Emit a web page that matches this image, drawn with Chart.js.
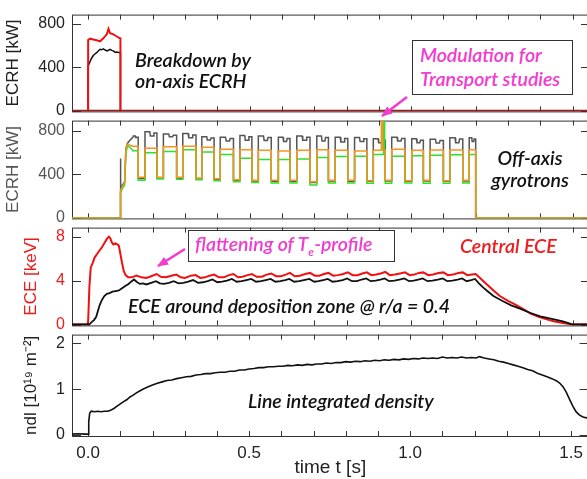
<!DOCTYPE html>
<html>
<head>
<meta charset="utf-8">
<script src="https://cdn.jsdelivr.net/npm/chart.js@4.4.1/dist/chart.umd.min.js"></script>
<style>
  html, body { margin: 0; padding: 0; background: #fff; overflow: hidden; }
  #wrap { position: relative; width: 587px; height: 479px; overflow: hidden; }
  canvas { position: absolute; left: 0; }
  .note { position: absolute; font-family: Lato, "Open Sans", sans-serif; font-style: italic; font-weight: 600;
          font-size: 19.5px; line-height: 22px; white-space: nowrap; color: #111; }
  .box { position: absolute; box-sizing: border-box; background: #fff; border: 1px solid #333; }
  .pink { color: #f03ccf; }
  svg { position: absolute; left: 0; top: 0; }
</style>
</head>
<body>
<div id="wrap">
  <canvas id="p1" width="590" height="130" style="top:-2px"></canvas>
  <canvas id="p2" width="590" height="131" style="top:104px"></canvas>
  <canvas id="p3" width="590" height="131" style="top:211px"></canvas>
  <canvas id="p4" width="590" height="161" style="top:318px"></canvas>

  <div class="note" style="left:135px; top:49px; line-height:21px">Breakdown by<br>on-axis ECRH</div>
  <div class="box" style="left:412px; top:40px; width:161px; height:55px"></div>
  <div class="note pink" style="left:420px; top:43px; line-height:24px">Modulation for<br>Transport studies</div>
  <div class="note" style="left:480px; top:147px; width:100px; text-align:center">Off-axis<br>gyrotrons</div>
  <div class="box" style="left:188px; top:230px; width:207px; height:32px"></div>
  <div class="note pink" style="left:195px; top:233px">flattening of T<sub style="font-size:12px; line-height:0">e</sub>-profile</div>
  <div class="note" style="left:460px; top:235px; color:#ee1c1c">Central ECE</div>
  <div class="note" style="left:128px; top:295px">ECE around deposition zone @ r/a = 0.4</div>
  <div class="note" style="left:248px; top:390px">Line integrated density</div>

  <svg width="587" height="479">
    <defs>
      <marker id="ah" markerWidth="11" markerHeight="9" refX="10" refY="4.5" orient="auto" markerUnits="userSpaceOnUse">
        <path d="M0,0 L11,4.5 L0,9 z" fill="#f03ccf"/>
      </marker>
    </defs>
    <line x1="407" y1="97" x2="382" y2="116" stroke="#f03ccf" stroke-width="2.5" marker-end="url(#ah)"/>
    <line x1="185" y1="249" x2="158" y2="266" stroke="#f03ccf" stroke-width="2.5" marker-end="url(#ah)"/>
  </svg>
</div>

<script>
const xMin = -0.05, xMax = 1.554
const xTickLabels = [0.0, 0.5, 1.0, 1.5]
const xMinorTicks = [0, 0.1, 0.2, 0.3, 0.4, 0.5, 0.6, 0.7, 0.8, 0.9, 1.0, 1.1, 1.2, 1.3, 1.4, 1.5]

// panel 1: on-axis ECRH breakdown pulse
const onAxisRedT = [0.000, 0.000, 0.006, 0.016, 0.026, 0.037, 0.047, 0.054, 0.058, 0.063, 0.068, 0.078, 0.089, 0.097, 0.100, 0.100]
const onAxisRed = [0, 650, 662, 655, 648, 638, 665, 690, 705, 752, 712, 702, 682, 668, 665, 0]
const onAxisBlackT = [0.000, 0.000, 0.006, 0.011, 0.016, 0.021, 0.027, 0.032, 0.037, 0.042, 0.047, 0.053, 0.058, 0.063, 0.068, 0.073, 0.078, 0.084, 0.089, 0.094, 0.100, 0.100]
const onAxisBlack = [0, 411, 453, 485, 508, 522, 536, 552, 564, 560, 569, 558, 550, 556, 564, 555, 550, 536, 540, 536, 535, 0]

// panel 2: off-axis gyrotrons, modulated
const modLowStart = [0.155, 0.213, 0.274, 0.334, 0.390, 0.450, 0.507, 0.567, 0.625, 0.687, 0.744, 0.804, 0.863, 0.920, 0.981, 1.038, 1.100, 1.160]
const modLowEnd = [0.176, 0.233, 0.293, 0.352, 0.409, 0.470, 0.527, 0.589, 0.646, 0.708, 0.765, 0.825, 0.883, 0.940, 1.002, 1.059, 1.120, 1.180]
const gyroOffT = 1.2

const orangeStartT = [-0.05, 0.100, 0.100, 0.106, 0.113, 0.116, 0.120, 0.126, 0.135]
const orangeStart = [0, 0, 250, 290, 320, 600, 680, 672, 662]
const orangeHigh = [658, 638, 652, 656, 647, 630, 625, 620, 614, 620, 625, 620, 614, 620, 630, 620, 622, 622, 625]
const orangeLow = [373, 373, 373, 367, 360, 350, 345, 345, 345, 331, 345, 345, 342, 345, 342, 345, 342, 345]

const greenStartT = [-0.05, 0.100, 0.100, 0.106, 0.113, 0.117, 0.122, 0.128, 0.138]
const greenStart = [0, 0, 230, 270, 300, 590, 665, 650, 620]
const greenHigh = [615, 597, 610, 624, 605, 582, 546, 535, 535, 540, 555, 563, 566, 582, 566, 570, 575, 580, 582]
const greenLow = [345, 358, 355, 350, 340, 331, 325, 321, 321, 303, 321, 321, 318, 318, 321, 318, 318, 321]

const grayStartT = [-0.05, 0.100, 0.100, 0.101, 0.106, 0.113, 0.117, 0.123, 0.132, 0.140]
const grayStart = [0, 0, 545, 265, 300, 330, 640, 690, 720, 745]
const grayHigh = [752, 790, 770, 773, 745, 740, 755, 750, 740, 752, 750, 740, 738, 725, 740, 725, 722, 735, 735]
const grayDip = [738, 752, 745, 736, 715, 705, 712, 710, 700, 712, 705, 695, 700, 690, 705, 690, 686, 690, 700]
const grayLow = [362, 368, 364, 358, 352, 343, 338, 337, 337, 326, 338, 337, 336, 338, 336, 338, 336, 338]

const spikeOrangeT = [0.908, 0.908, 0.912, 0.912]
const spikeOrange = [622, 950, 950, 622]
const spikeGreenT = [0.915, 0.915, 0.918, 0.918]
const spikeGreen = [582, 950, 950, 582]

// panel 3: ECE
const eceCoreT = [
  -0.05, -0.002, 0.000, 0.004, 0.008, 0.014, 0.020, 0.027, 0.034, 0.042,
  0.050, 0.058, 0.064, 0.068, 0.073, 0.078, 0.084, 0.090, 0.095, 0.100,
  0.105, 0.110, 0.116, 0.124, 0.135, 0.150, 0.165, 0.180, 0.195, 0.212,
  0.225, 0.240, 0.258, 0.273, 0.287, 0.300, 0.318, 0.333, 0.347, 0.362,
  0.376, 0.390, 0.405, 0.420, 0.436, 0.450, 0.464, 0.478, 0.494, 0.507,
  0.522, 0.538, 0.553, 0.567, 0.582, 0.597, 0.612, 0.625, 0.640, 0.655,
  0.672, 0.687, 0.702, 0.716, 0.730, 0.744, 0.759, 0.774, 0.790, 0.804,
  0.819, 0.834, 0.849, 0.863, 0.877, 0.892, 0.906, 0.920, 0.934, 0.950,
  0.966, 0.981, 0.996, 1.010, 1.024, 1.038, 1.053, 1.068, 1.085, 1.100,
  1.114, 1.130, 1.146, 1.160, 1.174, 1.188, 1.200, 1.215, 1.235, 1.255,
  1.275, 1.300, 1.320, 1.345, 1.370, 1.395, 1.420, 1.445, 1.470, 1.490,
  1.500, 1.554]
const eceCore = [
  0, 0, 0.3, 3.5, 5.2, 5.6, 6.1, 6.4, 6.7, 7.0,
  7.4, 7.8, 8.0, 7.9, 7.5, 7.3, 7.4, 7.3, 7.2, 6.4,
  5.6, 4.9, 4.5, 4.3, 4.3, 4.45, 4.3, 4.25, 4.4, 4.6,
  4.35, 4.3, 4.45, 4.55, 4.3, 4.25, 4.45, 4.5, 4.25, 4.3,
  4.45, 4.55, 4.3, 4.3, 4.5, 4.6, 4.3, 4.35, 4.5, 4.6,
  4.35, 4.35, 4.55, 4.65, 4.4, 4.4, 4.55, 4.7, 4.4, 4.45,
  4.6, 4.7, 4.45, 4.45, 4.6, 4.7, 4.45, 4.5, 4.6, 4.75,
  4.5, 4.5, 4.65, 4.75, 4.5, 4.55, 4.65, 4.8, 4.5, 4.55,
  4.65, 4.75, 4.5, 4.55, 4.7, 4.75, 4.5, 4.55, 4.7, 4.75,
  4.5, 4.55, 4.7, 4.75, 4.5, 4.55, 4.6, 4.2, 3.65, 3.1,
  2.6, 2.15, 1.85, 1.45, 1.0, 0.7, 0.47, 0.28, 0.14, 0.04,
  0.0, 0.0]
const eceDepT = [
  -0.05, 0.003, 0.010, 0.018, 0.025, 0.030, 0.036, 0.042, 0.050, 0.058,
  0.066, 0.075, 0.085, 0.095, 0.105, 0.115, 0.125, 0.135, 0.142, 0.150,
  0.160, 0.170, 0.180, 0.195, 0.210, 0.222, 0.235, 0.250, 0.265, 0.280,
  0.295, 0.310, 0.325, 0.340, 0.355, 0.370, 0.385, 0.400, 0.415, 0.430,
  0.445, 0.460, 0.475, 0.490, 0.505, 0.520, 0.535, 0.550, 0.565, 0.580,
  0.595, 0.610, 0.623, 0.638, 0.653, 0.668, 0.685, 0.700, 0.713, 0.728,
  0.742, 0.757, 0.772, 0.788, 0.802, 0.817, 0.832, 0.847, 0.861, 0.875,
  0.890, 0.905, 0.918, 0.932, 0.948, 0.964, 0.979, 0.994, 1.008, 1.022,
  1.036, 1.051, 1.066, 1.083, 1.098, 1.112, 1.128, 1.144, 1.158, 1.172,
  1.186, 1.198, 1.210, 1.222, 1.234, 1.255, 1.286, 1.310, 1.337, 1.370,
  1.400, 1.450, 1.470, 1.490, 1.500, 1.554]
const eceDep = [
  0, 0, 0.2, 0.4, 0.7, 1.2, 1.8, 2.2, 2.6, 2.8,
  2.85, 3.0, 3.05, 3.1, 3.3, 3.5, 3.7, 3.95, 4.1, 3.9,
  3.7, 3.75, 3.65, 3.8, 3.95, 3.75, 3.7, 3.8, 3.95, 3.75,
  3.8, 3.9, 4.05, 3.8, 3.85, 3.95, 4.1, 3.85, 3.9, 4.0,
  4.15, 3.9, 3.95, 4.05, 4.15, 3.9, 3.95, 4.05, 4.15, 3.9,
  3.95, 4.05, 4.15, 3.9, 3.95, 4.05, 4.15, 3.9, 3.95, 4.05,
  4.15, 3.9, 3.95, 4.05, 4.2, 3.95, 3.95, 4.1, 4.2, 3.95,
  4.0, 4.1, 4.2, 3.95, 4.0, 4.1, 4.2, 3.95, 4.0, 4.1,
  4.2, 3.95, 4.0, 4.1, 4.2, 3.95, 4.0, 4.1, 4.2, 3.95,
  4.05, 4.15, 3.75, 3.4, 3.1, 2.6, 2.1, 1.75, 1.45, 1.05,
  0.75, 0.42, 0.28, 0.1, 0.0, 0.0]

// panel 4: line integrated density
const ndlT = [
  -0.05, -0.03, -0.01, 0.000, 0.002, 0.005, 0.010, 0.020, 0.030, 0.040,
  0.050, 0.060, 0.070, 0.080, 0.090, 0.100, 0.110, 0.120, 0.130, 0.140,
  0.150, 0.160, 0.170, 0.185, 0.200, 0.215, 0.230, 0.245, 0.260, 0.275,
  0.290, 0.305, 0.320, 0.335, 0.350, 0.365, 0.380, 0.395, 0.410, 0.425,
  0.440, 0.455, 0.470, 0.485, 0.500, 0.515, 0.530, 0.545, 0.560, 0.575,
  0.590, 0.605, 0.620, 0.635, 0.650, 0.665, 0.680, 0.695, 0.710, 0.725,
  0.740, 0.755, 0.770, 0.785, 0.800, 0.815, 0.830, 0.845, 0.860, 0.875,
  0.890, 0.905, 0.920, 0.935, 0.950, 0.965, 0.980, 0.995, 1.010, 1.025,
  1.040, 1.055, 1.070, 1.085, 1.100, 1.115, 1.130, 1.145, 1.160, 1.175,
  1.190, 1.205, 1.215, 1.230, 1.245, 1.260, 1.275, 1.290, 1.305, 1.320,
  1.335, 1.350, 1.365, 1.380, 1.395, 1.410, 1.425, 1.440, 1.455, 1.465,
  1.475, 1.485, 1.495, 1.505, 1.515, 1.525, 1.535, 1.545, 1.554]
const ndl = [
  0.02, 0.03, 0.02, 0.02, 0.30, 0.48, 0.52, 0.51, 0.52, 0.51,
  0.52, 0.52, 0.54, 0.58, 0.63, 0.68, 0.73, 0.77, 0.83, 0.87,
  0.92, 0.96, 1.00, 1.05, 1.09, 1.13, 1.16, 1.19, 1.20, 1.23,
  1.25, 1.27, 1.28, 1.31, 1.32, 1.34, 1.34, 1.36, 1.37, 1.37,
  1.39, 1.39, 1.42, 1.42, 1.44, 1.45, 1.47, 1.47, 1.49, 1.49,
  1.50, 1.50, 1.52, 1.51, 1.53, 1.52, 1.54, 1.53, 1.55, 1.55,
  1.57, 1.56, 1.58, 1.58, 1.60, 1.59, 1.61, 1.60, 1.62, 1.61,
  1.63, 1.62, 1.64, 1.63, 1.65, 1.64, 1.66, 1.65, 1.67, 1.66,
  1.68, 1.67, 1.68, 1.67, 1.70, 1.68, 1.69, 1.68, 1.70, 1.68,
  1.69, 1.68, 1.71, 1.68, 1.66, 1.64, 1.61, 1.59, 1.56, 1.53,
  1.50, 1.47, 1.43, 1.40, 1.35, 1.31, 1.27, 1.23, 1.18, 1.13,
  1.05, 0.93, 0.78, 0.63, 0.51, 0.44, 0.40, 0.38, 0.37]

const pts = (ts, vs) => ts.map((t, i) => ({x: t, y: vs[i]}))

function gyroTrace(startT, startV, highs, lows, dips) {
  const out = pts(startT, startV)
  for (let i = 0; i < highs.length; i++) {
    const a = i === 0 ? startT[startT.length - 1] : modLowEnd[i - 1]
    const b = i < modLowStart.length ? modLowStart[i] : gyroOffT
    if (dips) {
      const w = b - a
      out.push({x: a, y: highs[i]}, {x: a + 0.4 * w, y: highs[i]}, {x: a + 0.45 * w, y: dips[i]},
        {x: a + 0.7 * w, y: dips[i]}, {x: a + 0.75 * w, y: highs[i] - 12}, {x: b, y: highs[i] - 12})
    } else {
      out.push({x: a, y: highs[i]}, {x: b, y: highs[i]})
    }
    if (i < lows.length) out.push({x: b, y: lows[i]}, {x: modLowEnd[i], y: lows[i]})
  }
  out.push({x: gyroOffT, y: 0}, {x: xMax, y: 0})
  return out
}

const AXIS_FONT = 'Liberation Sans, Arial, Helvetica, sans-serif'

const framePlugin = {
  id: 'frame',
  beforeDatasetsDraw(chart) {
    const {ctx, chartArea: a, scales: {x, y}} = chart
    ctx.save()
    ctx.strokeStyle = '#333'
    ctx.lineWidth = 1
    ctx.strokeRect(a.left + 0.5, a.top + 0.5, a.right - a.left, a.bottom - a.top)
    ctx.beginPath()
    xMinorTicks.forEach(v => {
      const px = Math.round(x.getPixelForValue(v)) + 0.5
      ctx.moveTo(px, a.bottom); ctx.lineTo(px, a.bottom - 5)
      ctx.moveTo(px, a.top); ctx.lineTo(px, a.top + 5)
    })
    y.ticks.forEach(t => {
      const py = Math.round(y.getPixelForValue(t.value)) + 0.5
      ctx.moveTo(a.left, py); ctx.lineTo(a.left + 9, py)
      ctx.moveTo(a.right, py); ctx.lineTo(a.right - 9, py)
    })
    ctx.stroke()
    ctx.restore()
  }
}

function line(data, color, width) {
  return {data, borderColor: color, borderWidth: width, pointRadius: 0, tension: 0, fill: false}
}

function panel(id, datasets, y, bottom) {
  const scales = {
    x: {type: 'linear', min: xMin, max: xMax, display: false},
    y: {
      type: 'linear', position: 'left', min: y.min, max: y.max,
      grid: {display: false, drawTicks: false}, border: {display: false},
      afterBuildTicks: s => { s.ticks = y.ticks.map(v => ({value: v})) },
      afterFit: s => { s.width = 72 },
      ticks: {color: y.color, font: {family: AXIS_FONT, size: 16}, padding: 7},
      title: {display: true, text: y.title, color: y.color, font: {family: AXIS_FONT, size: 17},
        padding: {top: y.titlePad, bottom: 0}}
    }
  }
  if (bottom) {
    scales.x = {
      type: 'linear', min: xMin, max: xMax, position: 'bottom',
      grid: {display: false, drawTicks: false}, border: {display: false},
      afterBuildTicks: s => { s.ticks = xTickLabels.map(v => ({value: v})) },
      afterFit: s => { s.height = 43 },
      ticks: {color: '#222', font: {family: AXIS_FONT, size: 17}, padding: 7, maxRotation: 0, autoSkip: false,
        callback: v => v.toFixed(1)},
      title: {display: true, text: 'time t [s]', color: '#222', font: {family: AXIS_FONT, size: 19},
        padding: {top: 0, bottom: 0}}
    }
  }
  return new Chart(document.getElementById(id), {
    type: 'line',
    data: {datasets},
    options: {
      responsive: false, animation: false, events: [],
      layout: {padding: {top: 12, bottom: bottom ? 0 : 12, left: 0, right: 0}},
      plugins: {legend: {display: false}, tooltip: {enabled: false}},
      scales
    },
    plugins: [framePlugin]
  })
}

panel('p1', [
  line(pts(onAxisRedT, onAxisRed), '#f01010', 2),
  line(pts(onAxisBlackT, onAxisBlack), '#111', 1.5),
  line(pts([xMin, xMax], [0, 0]), '#9b1b1b', 2)
], {min: -5, max: 883, ticks: [0, 400, 800], color: '#222', title: 'ECRH [kW]', titlePad: 3})

panel('p2', [
  line(pts(spikeOrangeT, spikeOrange), '#f7931e', 1.5),
  line(gyroTrace(orangeStartT, orangeStart, orangeHigh, orangeLow), '#f7931e', 1.5),
  line(pts(spikeGreenT, spikeGreen), '#2ee02e', 1.5),
  line(gyroTrace(greenStartT, greenStart, greenHigh, greenLow), '#2ee02e', 1.5),
  line(gyroTrace(grayStartT, grayStart, grayHigh, grayLow, grayDip), '#555', 1.5)
], {min: -4, max: 892, ticks: [0, 400, 800], color: '#555', title: 'ECRH [kW]', titlePad: 3})

panel('p3', [
  line(pts(eceDepT, eceDep), '#111', 1.8),
  line(pts(eceCoreT, eceCore), '#f01010', 2)
], {min: -0.08, max: 8.83, ticks: [0, 4, 8], color: '#ee1c1c', title: 'ECE [keV]', titlePad: 21})

panel('p4', [
  line(pts(ndlT, ndl), '#111', 1.6)
], {min: -0.02, max: 2.19, ticks: [0, 1, 2], color: '#222', title: 'ndl [10¹⁹ m⁻²]', titlePad: 21}, true)
</script>
</body>
</html>
